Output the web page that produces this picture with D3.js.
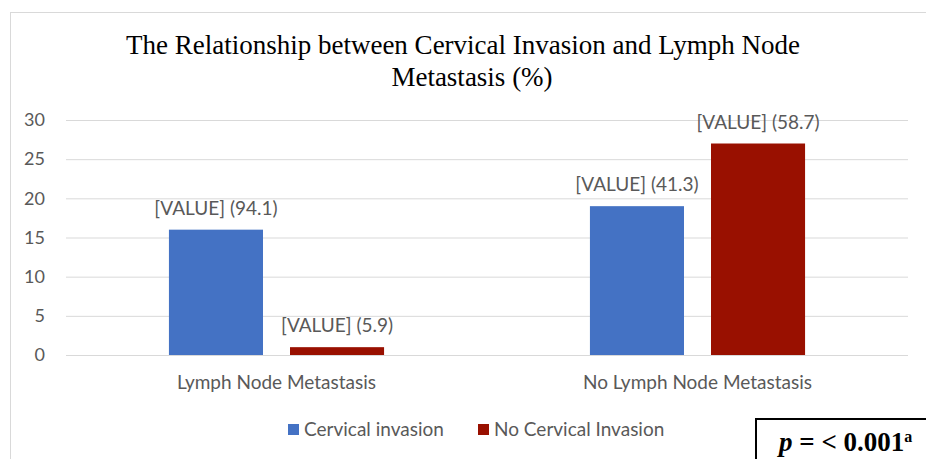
<!DOCTYPE html>
<html lang="en">
<head>
    <meta charset="utf-8" />
    <title>The Relationship between Cervical Invasion and Lymph Node Metastasis</title>
    <script src="https://d3js.org/d3.v7.min.js"></script>
    <style>
        body { margin: 0; background: #fff; }
        .grid line { stroke: #d9d9d9; stroke-width: 1px; }
        .tick text, .cat-label, .data-label, .legend text {
            font-family: Lato, "Open Sans", sans-serif;
            fill: #595959;
        }
    </style>
</head>
<body>
    <script>
        // data
        var categories = ["Lymph Node Metastasis", "No Lymph Node Metastasis"];
        var series = ["Cervical invasion", "No Cervical Invasion"];
        var cervical = [16, 19];
        var noCervical = [1, 27];
        var cervicalPct = ["94.1", "41.3"];
        var noCervicalPct = ["5.9", "58.7"];
        var yTicks = [0, 5, 10, 15, 20, 25, 30];
        var colors = ["#4472c4", "#991000"];

        var width = 926, height = 459;

        var svg = d3.select("body").append("svg")
            .attr("width", width)
            .attr("height", height);

        // chart border
        svg.append("rect")
            .attr("x", 10.5).attr("y", 12.5)
            .attr("width", 940).attr("height", 470)
            .attr("fill", "#fff")
            .attr("stroke", "#d9d9d9");

        // title
        var title = svg.append("text")
            .attr("text-anchor", "middle")
            .style("font-family", "'Liberation Serif', 'Times New Roman', serif")
            .style("font-size", "27px")
            .attr("fill", "#000");
        title.append("tspan").attr("x", 463).attr("y", 54)
            .text("The Relationship between Cervical Invasion and Lymph Node");
        title.append("tspan").attr("x", 472).attr("y", 86)
            .text("Metastasis (%)");

        var y = d3.scaleLinear().domain([0, 30]).range([355, 120]);
        var x0 = d3.scaleBand().domain(categories).range([66, 908])
            .paddingInner(0.489).paddingOuter(0.2445);
        var x1 = d3.scaleBand().domain(series).range([0, x0.bandwidth()])
            .paddingInner(0.223);

        // gridlines
        svg.append("g").attr("class", "grid")
            .selectAll("line").data(yTicks).enter().append("line")
            .attr("x1", 66).attr("x2", 908)
            .attr("y1", function (d) { return y(d) + 0.5; })
            .attr("y2", function (d) { return y(d) + 0.5; });

        // y axis labels
        var yAxis = svg.append("g")
            .attr("transform", "translate(58,0)")
            .call(d3.axisLeft(y).tickValues(yTicks).tickSize(0).tickPadding(13));
        yAxis.select(".domain").remove();
        yAxis.selectAll("text").style("font-size", "18px");

        var rows = categories.map(function (c, i) {
            return [
                { cat: c, s: series[0], v: cervical[i], pct: cervicalPct[i], col: colors[0] },
                { cat: c, s: series[1], v: noCervical[i], pct: noCervicalPct[i], col: colors[1] }
            ];
        });

        var groups = svg.append("g").selectAll("g").data(rows).enter().append("g")
            .attr("transform", function (d) { return "translate(" + x0(d[0].cat) + ",0)"; });

        groups.selectAll("rect").data(function (d) { return d; }).enter().append("rect")
            .attr("x", function (d) { return x1(d.s); })
            .attr("y", function (d) { return y(d.v); })
            .attr("width", x1.bandwidth())
            .attr("height", function (d) { return y(0) - y(d.v); })
            .attr("fill", function (d) { return d.col; });

        groups.selectAll("text").data(function (d) { return d; }).enter().append("text")
            .attr("class", "data-label")
            .attr("text-anchor", "middle")
            .attr("x", function (d) { return x1(d.s) + x1.bandwidth() / 2; })
            .attr("y", function (d) { return y(d.v) - 15; })
            .style("font-size", "19px")
            .text(function (d) { return "[VALUE] (" + d.pct + ")"; });

        // category labels
        svg.append("g").selectAll("text").data(categories).enter().append("text")
            .attr("class", "cat-label")
            .attr("text-anchor", "middle")
            .attr("x", function (d) { return x0(d) + x0.bandwidth() / 2; })
            .attr("y", 389)
            .style("font-size", "19px")
            .text(function (d) { return d; });

        // legend
        var legendX = [288, 478];
        var legend = svg.append("g").attr("class", "legend")
            .selectAll("g").data(series).enter().append("g")
            .attr("transform", function (d, i) { return "translate(" + legendX[i] + ",424)"; });
        legend.append("rect")
            .attr("width", 11).attr("height", 11)
            .attr("fill", function (d, i) { return colors[i]; });
        legend.append("text")
            .attr("x", 16).attr("y", 12)
            .style("font-size", "19px")
            .text(function (d) { return d; });

        // p value box
        svg.append("rect")
            .attr("x", 756).attr("y", 419)
            .attr("width", 200).attr("height", 60)
            .attr("fill", "#fff")
            .attr("stroke", "#000")
            .attr("stroke-width", 2);
        var p = svg.append("text")
            .attr("x", 779).attr("y", 451)
            .style("font-family", "'Liberation Serif', 'Times New Roman', serif")
            .style("font-size", "27px")
            .style("font-weight", "bold")
            .attr("fill", "#000");
        p.append("tspan").style("font-style", "italic").text("p");
        p.append("tspan").text(" = < 0.001");
        p.append("tspan").attr("dy", -9).style("font-size", "16px").text("a");
    </script>
</body>
</html>
